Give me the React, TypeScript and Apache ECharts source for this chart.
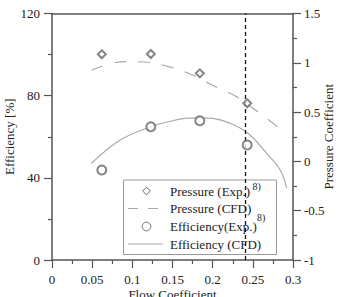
import React, { useEffect, useRef } from "react";
import * as echarts from "echarts";

const pressureExp: [number, number][] = [
  [0.062, 1.086],
  [0.123, 1.089],
  [0.184, 0.893],
  [0.243, 0.589],
];
const efficiencyExp: [number, number][] = [
  [0.062, 43.8],
  [0.123, 64.9],
  [0.184, 67.8],
  [0.243, 56.0],
];
const pressureCFD: [number, number][] = [
  [0.049, 0.925],
  [0.07, 0.985],
  [0.09, 1.012],
  [0.115, 1.008],
  [0.145, 0.962],
  [0.172, 0.886],
  [0.198, 0.78],
  [0.227, 0.668],
  [0.254, 0.516],
  [0.281, 0.35],
];
const efficiencyCFD: [number, number][] = [
  [0.049, 47],
  [0.085, 58.4],
  [0.124, 65],
  [0.15, 67.8],
  [0.166, 68.9],
  [0.185, 69.2],
  [0.2, 68.9],
  [0.222, 66.5],
  [0.244, 61.7],
  [0.267, 52],
  [0.284, 43.8],
  [0.292, 35],
];
const legendNames = ["Pressure (Exp.)", "Pressure (CFD)", "Efficiency(Exp.)", "Efficiency (CFD)"];
const designPointX = 0.243;
const designLabelY = 1.37;

const FONT = "Liberation Serif";
const AXIS = "#555";
const TXT = "#222";
const MARK = "#666";
const CURVE = "#aaa";

function buildLegend() {
  const x0 = 123.5;
  const y0 = 180;
  const rows = [191, 208.5, 226.5, 244];
  const iconL = 128;
  const iconR = 163;
  const iconC = 146.5;
  const textX = 170;
  const children: any[] = [
    {
      type: "rect",
      shape: { x: x0, y: y0, width: 153, height: 74.5 },
      style: { fill: "#fff", stroke: "#999", lineWidth: 1 },
    },
    {
      type: "polygon",
      shape: {
        points: [
          [iconC, rows[0] - 3.8],
          [iconC + 3.8, rows[0]],
          [iconC, rows[0] + 3.8],
          [iconC - 3.8, rows[0]],
        ],
      },
      style: { fill: "none", stroke: MARK, lineWidth: 1 },
    },
    {
      type: "line",
      shape: { x1: iconL, y1: rows[1], x2: iconR, y2: rows[1] },
      style: { stroke: CURVE, lineWidth: 1.2, lineDash: [10, 10] },
    },
    {
      type: "circle",
      shape: { cx: iconC, cy: rows[2], r: 4.3 },
      style: { fill: "none", stroke: MARK, lineWidth: 1 },
    },
    {
      type: "line",
      shape: { x1: iconL, y1: rows[3], x2: iconR, y2: rows[3] },
      style: { stroke: CURVE, lineWidth: 1.2 },
    },
  ];
  legendNames.forEach((n, i) => {
    children.push({
      type: "text",
      x: textX,
      y: rows[i],
      style: {
        text: n,
        fontFamily: FONT,
        fontSize: 13,
        fill: TXT,
        verticalAlign: "middle",
      },
    });
  });
  children.push({
    type: "text",
    x: 252.5,
    y: rows[0] - 4.5,
    style: { text: "8)", fontFamily: FONT, fontSize: 10, fill: TXT, verticalAlign: "middle" },
  });
  children.push({
    type: "text",
    x: 257,
    y: rows[2] - 9,
    style: { text: "8)", fontFamily: FONT, fontSize: 10, fill: TXT, verticalAlign: "middle" },
  });
  return { type: "group", z: 100, children };
}

export default function App() {
  const ref = useRef<HTMLDivElement>(null);
  useEffect(() => {
    if (!ref.current) return;
    const chart = echarts.init(ref.current, null, { renderer: "svg" });
    const axisCommon = {
      axisLine: { show: true, onZero: false, lineStyle: { color: AXIS, width: 1.5 } },
      axisTick: { show: true, inside: false, length: 8, lineStyle: { color: AXIS, width: 1.2 } },
      minorTick: { show: true, splitNumber: 2, length: 4, lineStyle: { color: AXIS, width: 1.2 } },
      splitLine: { show: false },
      axisLabel: { color: TXT, fontFamily: FONT, fontSize: 13, margin: 12 },
      nameTextStyle: { color: TXT, fontFamily: FONT, fontSize: 13 },
      nameMoveOverlap: false,
    };
    chart.setOption({
      animation: false,
      textStyle: { fontFamily: FONT },
      grid: { left: 52, right: 48, top: 13.5, bottom: 37, containLabel: false, outerBoundsMode: "none" },
      xAxis: [
        {
          ...axisCommon,
          type: "value",
          min: 0,
          max: 0.3,
          interval: 0.05,
          name: "Flow Coefficient",
          nameLocation: "middle",
          nameGap: 28,
          axisLabel: {
            ...axisCommon.axisLabel,
            margin: 13,
            formatter: (v: number) => String(Math.round(v * 100) / 100),
          },
        },
        {
          type: "value",
          position: "top",
          min: 0,
          max: 0.3,
          axisLine: { show: true, onZero: false, lineStyle: { color: AXIS, width: 1.5 } },
          axisTick: { show: false },
          axisLabel: { show: false },
          splitLine: { show: false },
        },
      ],
      yAxis: [
        {
          ...axisCommon,
          type: "value",
          min: 0,
          max: 120,
          interval: 40,
          name: "Efficiency [%]",
          nameLocation: "middle",
          nameGap: 36,
          nameRotate: 90,
        },
        {
          ...axisCommon,
          type: "value",
          position: "right",
          min: -1,
          max: 1.5,
          interval: 0.5,
          name: "Pressure Coefficient",
          nameLocation: "middle",
          nameGap: 29,
          nameRotate: 90,
          axisLabel: { ...axisCommon.axisLabel, margin: 11 },
        },
      ],
      graphic: [buildLegend()],
      series: [
        {
          name: legendNames[0],
          type: "scatter",
          yAxisIndex: 1,
          symbol: "emptyDiamond",
          symbolSize: 8,
          itemStyle: { color: MARK, borderColor: MARK, borderWidth: 1 },
          data: pressureExp,
          z: 5,
        },
        {
          name: legendNames[1],
          type: "line",
          yAxisIndex: 1,
          smooth: 0.4,
          symbol: "none",
          lineStyle: { color: CURVE, width: 1.2, type: [12, 12] },
          itemStyle: { color: CURVE },
          data: pressureCFD,
        },
        {
          name: legendNames[2],
          type: "scatter",
          yAxisIndex: 0,
          symbol: "emptyCircle",
          symbolSize: 9,
          itemStyle: { color: MARK, borderColor: MARK, borderWidth: 1 },
          data: efficiencyExp,
          z: 5,
        },
        {
          name: legendNames[3],
          type: "line",
          yAxisIndex: 0,
          smooth: 0.4,
          symbol: "none",
          lineStyle: { color: CURVE, width: 1.2 },
          itemStyle: { color: CURVE },
          data: efficiencyCFD,
        },
        {
          name: "design",
          type: "scatter",
          yAxisIndex: 1,
          symbol: "none",
          symbolSize: 0,
          silent: true,
          data: [[designPointX, designLabelY]],
          label: {
            show: true,
            position: "left",
            distance: 2,
            formatter: "Design point",
            color: TXT,
            fontFamily: FONT,
            fontSize: 11,
          },
          markLine: {
            silent: true,
            symbol: "none",
            label: { show: false },
            lineStyle: { color: "#111", width: 1.3, type: [4, 3] },
            data: [{ xAxis: designPointX }],
          },
        },
      ],
    });
    return () => chart.dispose();
  }, []);
  return <div ref={ref} style={{ width: 341, height: 297, position: "absolute", left: 0, top: 0 }} />;
}
